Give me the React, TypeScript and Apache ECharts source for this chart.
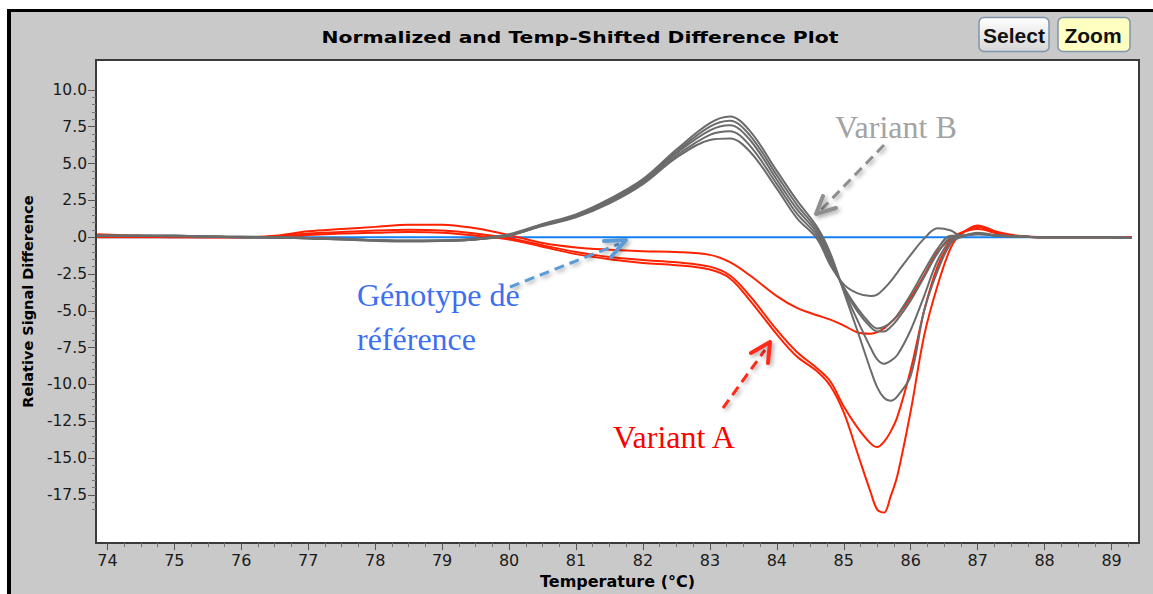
import React, { useEffect, useRef } from 'react';
import * as echarts from 'echarts';

// ---- data ----
const temps = [73.85, 74.5, 75, 75.5, 76, 76.5, 77, 77.5, 78, 78.5, 79, 79.5, 80, 80.5, 81, 81.5, 82, 82.5, 83, 83.3, 83.6, 84, 84.3, 84.6, 84.8, 85, 85.2, 85.4, 85.5, 85.6, 85.7, 85.8, 86, 86.2, 86.4, 86.6, 86.75, 87, 87.3, 87.6, 88, 88.5, 89, 89.3];

const referenceTemps = [73.85, 89.3];
const referenceValues = [0, 0];

const variantA1 = [0.2, 0.1, 0.05, 0.0, 0.0, 0.1, 0.4, 0.55, 0.7, 0.85, 0.85, 0.6, 0.15,
  -0.4, -0.7, -0.85, -0.95, -1.0, -1.2, -1.7, -2.6, -4.0, -4.8, -5.3, -5.6,
  -6.0, -6.45, -6.55, -6.45, -6.2, -5.8, -5.35, -4.1, -2.6, -1.0, -0.1, 0.3,
  0.55, 0.25, 0.05, 0.0, 0.0, 0.0, 0.0];
const variantA2 = [0.1, 0.05, 0.0, 0.0, 0.0, 0.05, 0.25, 0.35, 0.45, 0.5, 0.45, 0.25, -0.05,
  -0.55, -1.0, -1.35, -1.55, -1.7, -2.0, -2.6, -4.0, -6.3, -7.8, -8.9, -9.8,
  -11.5, -12.9, -14.0, -14.25, -13.9, -13.2, -12.2, -9.0, -5.0, -2.0, -0.3, 0.25,
  0.7, 0.3, 0.05, 0.0, 0.0, 0.0, 0.0];
const variantA3 = [0.0, 0.0, 0.0, 0.0, 0.0, 0.0, 0.15, 0.25, 0.3, 0.35, 0.3, 0.1, -0.15,
  -0.65, -1.15, -1.5, -1.75, -1.9, -2.2, -2.8, -4.3, -6.6, -8.1, -9.1, -10.1,
  -11.9, -14.6, -17.3, -18.5, -18.7, -17.6, -16.2, -11.8, -6.7, -3.3, -0.7, 0.2,
  0.8, 0.35, 0.1, 0.0, 0.0, 0.0, 0.0];

const variantB1 = [0.1, 0.1, 0.1, 0.05, 0.0, 0.0, -0.05, -0.1, -0.2, -0.25, -0.25, -0.15, 0.15,
  0.75, 1.35, 2.3, 3.6, 5.4, 6.6, 6.7, 5.8, 3.3, 1.3, -0.1, -1.9,
  -3.2, -3.8, -4.0, -3.9, -3.5, -3.0, -2.4, -1.2, -0.1, 0.6, 0.45, 0.1,
  0.2, 0.1, 0.05, 0.0, 0.0, 0.0, -0.05];
const variantB2 = [0.1, 0.1, 0.05, 0.05, 0.0, -0.05, -0.05, -0.1, -0.2, -0.25, -0.2, -0.1, 0.15,
  0.8, 1.4, 2.4, 3.7, 5.55, 6.95, 7.2, 6.2, 3.6, 1.6, 0.1, -1.7,
  -3.4, -4.8, -5.9, -6.2, -6.1, -5.8, -5.3, -3.9, -2.3, -0.8, 0.1, 0.1,
  0.25, 0.1, 0.05, 0.0, 0.0, 0.0, -0.05];
const variantB3 = [0.1, 0.1, 0.1, 0.05, 0.05, 0.0, -0.05, -0.15, -0.2, -0.25, -0.25, -0.15, 0.1,
  0.8, 1.45, 2.45, 3.8, 5.7, 7.25, 7.6, 6.6, 3.9, 1.9, 0.3, -1.5,
  -3.5, -5.0, -6.1, -6.4, -6.4, -6.1, -5.6, -4.3, -2.7, -1.1, 0.0, 0.1,
  0.2, 0.15, 0.05, 0.0, 0.0, 0.0, -0.05];
const variantB4 = [0.1, 0.1, 0.1, 0.05, 0.0, 0.0, -0.1, -0.15, -0.25, -0.3, -0.25, -0.15, 0.15,
  0.85, 1.5, 2.5, 3.85, 5.8, 7.5, 7.9, 6.9, 4.2, 2.2, 0.5, -1.3,
  -3.6, -5.6, -7.5, -8.3, -8.6, -8.4, -8.0, -6.3, -4.0, -1.6, -0.2, 0.05,
  0.3, 0.1, 0.05, 0.0, 0.0, 0.0, -0.05];
const variantB5 = [0.1, 0.1, 0.1, 0.05, 0.0, 0.0, -0.05, -0.1, -0.2, -0.25, -0.25, -0.1, 0.2,
  0.9, 1.55, 2.6, 3.95, 5.95, 7.75, 8.2, 7.2, 4.5, 2.5, 0.7, -1.1,
  -3.7, -6.3, -9.0, -10.2, -10.9, -11.1, -10.8, -9.4, -5.0, -2.3, -0.4, 0.0,
  0.25, 0.1, 0.05, 0.0, 0.0, 0.0, -0.05];

const xTicks = [74, 75, 76, 77, 78, 79, 80, 81, 82, 83, 84, 85, 86, 87, 88, 89];
const yTicks = [-17.5, -15, -12.5, -10, -7.5, -5, -2.5, 0, 2.5, 5, 7.5, 10];

const X_MIN = 73.83;
const X_MAX = 89.41;
const Y_MIN = -20.77;
const Y_MAX = 12.03;

const TITLE = 'Normalized and Temp-Shifted Difference Plot';

function minorTicks(majors: number[], step: number, lo: number, hi: number) {
  const out: number[] = [];
  const start = Math.ceil(lo / step) * step;
  for (let v = start; v <= hi + 1e-9; v += step) {
    const r = Math.round(v * 1000) / 1000;
    if (!majors.some((m) => Math.abs(m - r) < 1e-6)) out.push(r);
  }
  return out;
}

function textWidth(text: string, font: string) {
  const c = document.createElement('canvas').getContext('2d');
  if (!c) return text.length * 8;
  c.font = font;
  return c.measureText(text).width;
}

export default function App() {
  const ref = useRef<HTMLDivElement>(null);

  useEffect(() => {
    if (!ref.current) return;
    const chart = echarts.init(ref.current, null, { renderer: 'svg' });

    const pair = (vals: number[]) => temps.map((t, i) => [t, vals[i]]);
    const lineSeries = (name: string, data: number[][], color: string) => ({
      name,
      type: 'line',
      data,
      xAxisIndex: 0,
      yAxisIndex: 0,
      showSymbol: false,
      symbol: 'none',
      smooth: 0.35,
      silent: true,
      lineStyle: { color, width: 2 },
    });

    const red = '#ff2200';
    const gray = '#6b6b6b';
    const blue = '#1380f5';

    const titleFont = 'bold 15px "DejaVu Sans"';
    const titleScale = 517 / textWidth(TITLE, titleFont);

    const xMinor = minorTicks(xTicks, 0.25, X_MIN, X_MAX);
    const yMinor = minorTicks(yTicks, 0.5, -18.5, 10);

    const axisColor = '#3a3a3a';
    const labelFont = 'DejaVu Sans';
    const annoFont = '32px "Liberation Serif"';

    const shadow = { shadowBlur: 4, shadowOffsetX: 2, shadowOffsetY: 2, shadowColor: 'rgba(0,0,0,0.35)' };

    const option: any = {
      animation: false,
      backgroundColor: '#c9c9c9',
      grid: {
        left: 96, top: 60, width: 1043, height: 485,
        show: true, backgroundColor: '#ffffff', borderColor: axisColor, borderWidth: 2,
      },
      xAxis: [
        {
          type: 'value', min: X_MIN, max: X_MAX, position: 'bottom',
          name: 'Temperature (°C)', nameLocation: 'middle', nameGap: 27,
          nameTextStyle: { fontFamily: labelFont, fontWeight: 'bold', fontSize: 16, color: '#000' },
          axisLine: { show: true, onZero: false, lineStyle: { color: axisColor, width: 2 } },
          axisTick: { show: true, length: 7, customValues: xTicks, lineStyle: { color: '#555' } },
          axisLabel: { show: true, customValues: xTicks, margin: 9, fontFamily: labelFont, fontSize: 16, color: '#1a1a1a', formatter: (v: number) => String(v) },
          splitLine: { show: false },
        },
        {
          type: 'value', min: X_MIN, max: X_MAX, position: 'bottom',
          axisLine: { show: false, onZero: false },
          axisTick: { show: true, length: 4, customValues: xMinor, lineStyle: { color: '#777' } },
          axisLabel: { show: false },
          splitLine: { show: false },
        },
      ],
      yAxis: [
        {
          type: 'value', min: Y_MIN, max: Y_MAX, position: 'left',
          name: 'Relative Signal Difference', nameLocation: 'middle', nameGap: 56,
          nameTextStyle: { fontFamily: labelFont, fontWeight: 'bold', fontSize: 14.5, color: '#000' },
          axisLine: { show: true, onZero: false, lineStyle: { color: axisColor, width: 2 } },
          axisTick: { show: true, length: 8, customValues: yTicks, lineStyle: { color: '#555' } },
          axisLabel: {
            show: true, customValues: yTicks, margin: 9, fontFamily: labelFont, fontSize: 15.5, color: '#1a1a1a',
            formatter: (v: number) => (Math.abs(v) < 1e-9 ? '.0' : v.toFixed(1)),
          },
          splitLine: { show: false },
        },
        {
          type: 'value', min: Y_MIN, max: Y_MAX, position: 'left',
          axisLine: { show: false, onZero: false },
          axisTick: { show: true, length: 4, customValues: yMinor, lineStyle: { color: '#777' } },
          axisLabel: { show: false },
          splitLine: { show: false },
        },
      ],
      series: [
        lineSeries('Génotype de référence', referenceTemps.map((t, i) => [t, referenceValues[i]]), blue),
        lineSeries('Variant A 1', pair(variantA1), red),
        lineSeries('Variant A 2', pair(variantA2), red),
        lineSeries('Variant A 3', pair(variantA3), red),
        lineSeries('Variant B 1', pair(variantB1), gray),
        lineSeries('Variant B 2', pair(variantB2), gray),
        lineSeries('Variant B 3', pair(variantB3), gray),
        lineSeries('Variant B 4', pair(variantB4), gray),
        lineSeries('Variant B 5', pair(variantB5), gray),
      ],
      graphic: [
        // frame
        { type: 'rect', z: 1, silent: true, shape: { x: 0, y: 0, width: 1153, height: 9 }, style: { fill: '#ffffff' } },
        { type: 'rect', z: 1, silent: true, shape: { x: 0, y: 0, width: 7, height: 594 }, style: { fill: '#ffffff' } },
        { type: 'line', z: 2, silent: true, shape: { x1: 7, y1: 10.5, x2: 1153, y2: 10.5 }, style: { stroke: '#000', lineWidth: 3 } },
        { type: 'line', z: 2, silent: true, shape: { x1: 9, y1: 9, x2: 9, y2: 594 }, style: { stroke: '#000', lineWidth: 4 } },
        // title
        {
          type: 'text', z: 10, x: 580, y: 38, scaleX: titleScale, silent: true,
          style: { text: TITLE, font: titleFont, fill: '#000', align: 'center', verticalAlign: 'middle', textAlign: 'center', textVerticalAlign: 'middle' },
        },
        // buttons
        {
          type: 'rect', z: 10, silent: true, shape: { x: 979, y: 17.5, width: 70, height: 34, r: 5 },
          style: {
            fill: new echarts.graphic.LinearGradient(0, 0, 0, 1, [{ offset: 0, color: '#ffffff' }, { offset: 1, color: '#d6d6d6' }]),
            stroke: '#7f94ad', lineWidth: 1.5,
          },
        },
        {
          type: 'text', z: 11, x: 1014, y: 35, silent: true,
          style: { text: 'Select', font: 'bold 21px "Liberation Sans"', fill: '#111', align: 'center', verticalAlign: 'middle', textAlign: 'center', textVerticalAlign: 'middle' },
        },
        {
          type: 'rect', z: 10, silent: true, shape: { x: 1058, y: 17.5, width: 72, height: 34, r: 5 },
          style: { fill: '#ffffc2', stroke: '#7f94ad', lineWidth: 1.5 },
        },
        {
          type: 'text', z: 11, x: 1093, y: 35, silent: true,
          style: { text: 'Zoom', font: 'bold 21px "Liberation Sans"', fill: '#111', align: 'center', verticalAlign: 'middle', textAlign: 'center', textVerticalAlign: 'middle' },
        },
        // annotations
        {
          type: 'text', z: 20, x: 835, y: 127, silent: true,
          style: { text: 'Variant B', font: annoFont, fill: '#a3a3a3', align: 'left', verticalAlign: 'middle', textAlign: 'left', textVerticalAlign: 'middle' },
        },
        { type: 'line', z: 20, silent: true, shape: { x1: 884, y1: 145, x2: 821, y2: 210 }, style: { stroke: '#8e8e8e', lineWidth: 3, lineDash: [10, 6], ...shadow } },
        { type: 'polyline', z: 20, silent: true, shape: { points: [[823, 196], [816, 214], [836, 208]] }, style: { stroke: '#8e8e8e', fill: 'none', lineWidth: 4, lineCap: 'round', lineJoin: 'round', ...shadow } },
        {
          type: 'text', z: 20, x: 357, y: 295, silent: true,
          style: { text: 'Génotype de', font: annoFont, fill: '#3e6ef2', align: 'left', verticalAlign: 'middle', textAlign: 'left', textVerticalAlign: 'middle' },
        },
        {
          type: 'text', z: 20, x: 357, y: 339, silent: true,
          style: { text: 'référence', font: annoFont, fill: '#3e6ef2', align: 'left', verticalAlign: 'middle', textAlign: 'left', textVerticalAlign: 'middle' },
        },
        { type: 'line', z: 20, silent: true, shape: { x1: 510, y1: 287, x2: 619, y2: 244 }, style: { stroke: '#5b9bd5', lineWidth: 3, lineDash: [10, 6], ...shadow } },
        { type: 'polyline', z: 20, silent: true, shape: { points: [[604, 241], [626, 240], [611, 257]] }, style: { stroke: '#5b9bd5', fill: 'none', lineWidth: 4, lineCap: 'round', lineJoin: 'round', ...shadow } },
        {
          type: 'text', z: 20, x: 613, y: 437, silent: true,
          style: { text: 'Variant A', font: annoFont, fill: '#ff0000', align: 'left', verticalAlign: 'middle', textAlign: 'left', textVerticalAlign: 'middle' },
        },
        { type: 'line', z: 20, silent: true, shape: { x1: 723, y1: 408, x2: 765, y2: 350 }, style: { stroke: '#ff2a1a', lineWidth: 3, lineDash: [10, 6], ...shadow } },
        { type: 'polyline', z: 20, silent: true, shape: { points: [[751, 353], [770, 342], [768, 363]] }, style: { stroke: '#ff2a1a', fill: 'none', lineWidth: 4, lineCap: 'round', lineJoin: 'round', ...shadow } },
      ],
    };

    chart.setOption(option);
    return () => chart.dispose();
  }, []);

  return <div ref={ref} style={{ position: 'fixed', left: 0, top: 0, width: 1153, height: 594 }} />;
}
